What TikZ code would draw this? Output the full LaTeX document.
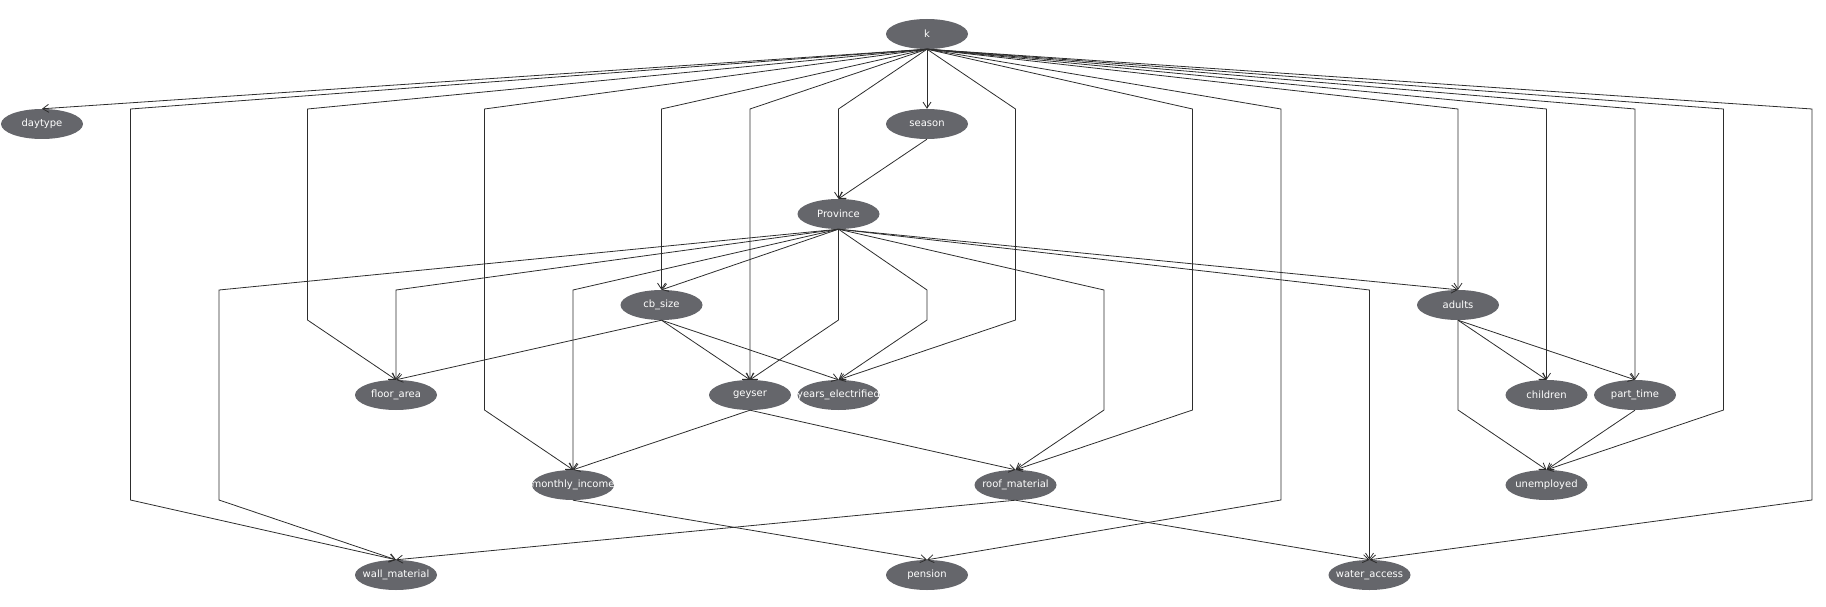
\documentclass[tikz,border=0pt]{standalone}
\usepackage{fontspec}
\setmainfont{DejaVu Sans}
\usetikzlibrary{arrows.meta,shapes.geometric}
\definecolor{nodegray}{RGB}{101,102,107}
\definecolor{edgegray}{RGB}{45,45,45}
\tikzset{
  bn/.style={ellipse, fill=nodegray, draw=none, minimum width=82pt, minimum height=30pt, inner sep=0pt},
  bnlabel/.style={text=white, font=\fontsize{10}{12}\selectfont, inner sep=0pt},
  edge/.style={draw=edgegray, line width=0.8pt, -{Straight Barb[length=6pt,width=8pt]}}
}
\newcommand\bnnode[4]{%
  \node[bn, path picture={\node[bnlabel] at (path picture bounding box.center) {#4};}] (#1) at (#2,#3) {};}
\begin{document}
\begin{tikzpicture}[x=1pt,y=-1pt]
\useasboundingbox (0,0) rectangle (1826,607);
% nodes
\bnnode{k}{927}{34}{k}
\bnnode{daytype}{42}{124}{daytype}
\bnnode{season}{927}{124}{season}
\bnnode{province}{838.5}{214}{Province}
\bnnode{cb}{661.5}{305}{cb\_size}
\bnnode{adults}{1458}{305}{adults}
\bnnode{floor}{396}{395}{floor\_area}
\bnnode{geyser}{750}{395}{geyser}
\bnnode{years}{838.5}{395}{years\_electrified}
\bnnode{children}{1546.5}{395}{children}
\bnnode{parttime}{1635}{395}{part\_time}
\bnnode{income}{573}{485}{monthly\_income}
\bnnode{roof}{1015.5}{485}{roof\_material}
\bnnode{unemployed}{1546.5}{485}{unemployed}
\bnnode{wall}{396}{575}{wall\_material}
\bnnode{pension}{927}{575}{pension}
\bnnode{water}{1369.5}{575}{water\_access}
% edges from k
\draw[edge] (k.south) -- (daytype.north);
\draw[edge] (k.south) -- (130.5,109) -- (130.5,500) -- (wall.north);
\draw[edge] (k.south) -- (307.5,109) -- (307.5,320) -- (floor.north);
\draw[edge] (k.south) -- (484.5,109) -- (484.5,410) -- (income.north);
\draw[edge] (k.south) -- (661.5,109) -- (661.5,229) -- (cb.north);
\draw[edge] (k.south) -- (750,109) -- (750,320) -- (geyser.north);
\draw[edge] (k.south) -- (838.5,109) -- (838.5,139) -- (province.north);
\draw[edge] (k.south) -- (season.north);
\draw[edge] (k.south) -- (1015.5,109) -- (1015.5,320) -- (years.north);
\draw[edge] (k.south) -- (1192.5,109) -- (1192.5,410) -- (roof.north);
\draw[edge] (k.south) -- (1281,109) -- (1281,500) -- (pension.north);
\draw[edge] (k.south) -- (1458,109) -- (1458,229) -- (adults.north);
\draw[edge] (k.south) -- (1546.5,109) -- (1546.5,320) -- (children.north);
\draw[edge] (k.south) -- (1635,109) -- (1635,320) -- (parttime.north);
\draw[edge] (k.south) -- (1723.5,109) -- (1723.5,410) -- (unemployed.north);
\draw[edge] (k.south) -- (1812,109) -- (1812,500) -- (water.north);
% season
\draw[edge] (season.south) -- (province.north);
% Province
\draw[edge] (province.south) -- (219,290) -- (219,500) -- (wall.north);
\draw[edge] (province.south) -- (396,290) -- (396,320) -- (floor.north);
\draw[edge] (province.south) -- (573,290) -- (573,410) -- (income.north);
\draw[edge] (province.south) -- (cb.north);
\draw[edge] (province.south) -- (838.5,290) -- (838.5,320) -- (geyser.north);
\draw[edge] (province.south) -- (927,290) -- (927,320) -- (years.north);
\draw[edge] (province.south) -- (1104,290) -- (1104,410) -- (roof.north);
\draw[edge] (province.south) -- (1369.5,290) -- (1369.5,500) -- (water.north);
\draw[edge] (province.south) -- (adults.north);
% cb_size
\draw[edge] (cb.south) -- (floor.north);
\draw[edge] (cb.south) -- (geyser.north);
\draw[edge] (cb.south) -- (years.north);
% adults
\draw[edge] (adults.south) -- (children.north);
\draw[edge] (adults.south) -- (parttime.north);
\draw[edge] (adults.south) -- (1458,380) -- (1458,410) -- (unemployed.north);
% geyser
\draw[edge] (geyser.south) -- (income.north);
\draw[edge] (geyser.south) -- (roof.north);
% others
\draw[edge] (parttime.south) -- (unemployed.north);
\draw[edge] (income.south) -- (pension.north);
\draw[edge] (roof.south) -- (wall.north);
\draw[edge] (roof.south) -- (water.north);
\end{tikzpicture}
\end{document}
